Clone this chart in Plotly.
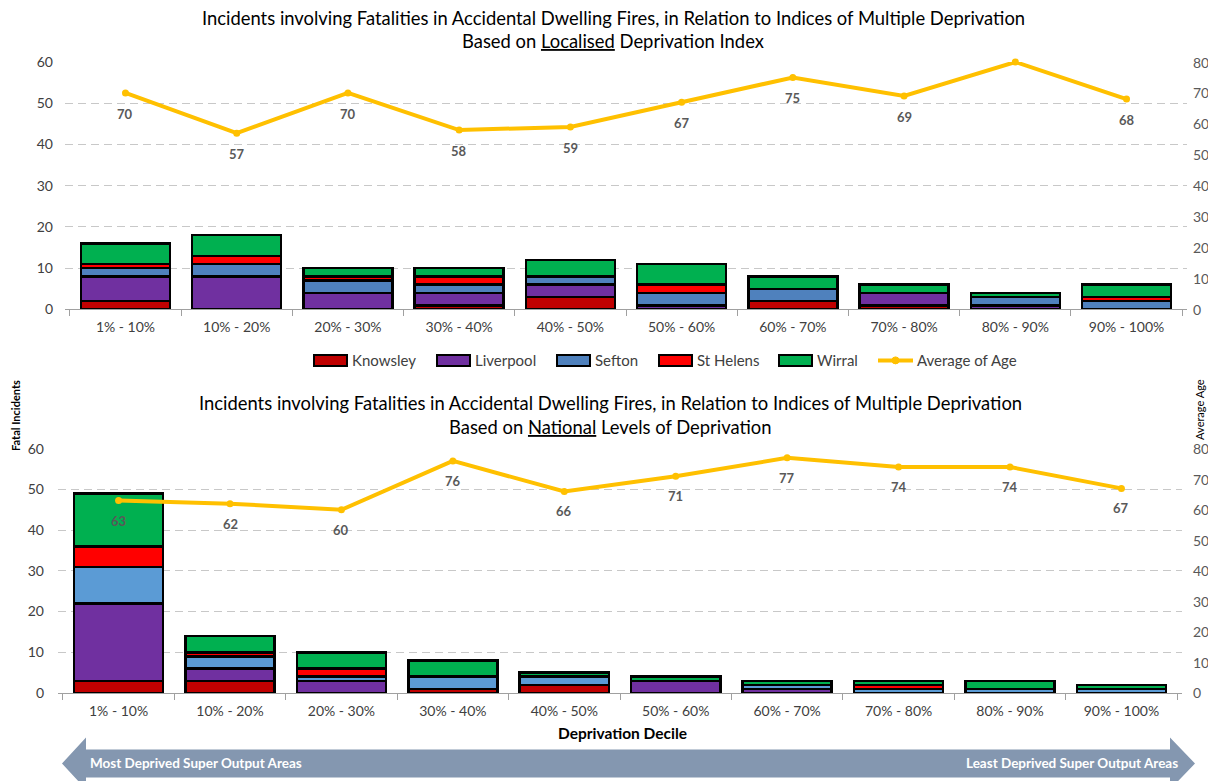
import plotly.graph_objects as go

W, H = 1208, 781

# ---- data -------------------------------------------------------------
deciles = ["1% - 10%", "10% - 20%", "20% - 30%", "30% - 40%", "40% - 50%",
           "50% - 60%", "60% - 70%", "70% - 80%", "80% - 90%", "90% - 100%"]

# Localised deprivation index
local_knowsley = [2, 0, 0, 1, 3, 0, 2, 1, 0, 0]
local_liverpool = [6, 8, 4, 3, 3, 1, 0, 3, 1, 0]
local_sefton = [2, 3, 3, 2, 2, 3, 3, 0, 2, 2]
local_sthelens = [1, 2, 1, 2, 0, 2, 0, 0, 0, 1]
local_wirral = [5, 5, 2, 2, 4, 5, 3, 2, 1, 3]
local_age = [70, 57, 70, 58, 59, 67, 75, 69, 80, 68]
local_age_labelled = [True, True, True, True, True, True, True, True, False, True]

# National levels of deprivation
nat_knowsley = [3, 3, 0, 1, 2, 0, 0, 0, 0, 0]
nat_liverpool = [19, 3, 3, 0, 0, 3, 1, 0, 0, 0]
nat_sefton = [9, 3, 1, 3, 2, 0, 1, 1, 1, 1]
nat_sthelens = [5, 1, 2, 0, 0, 0, 0, 1, 0, 0]
nat_wirral = [13, 4, 4, 4, 1, 1, 1, 1, 2, 1]
nat_age = [63, 62, 60, 76, 66, 71, 77, 74, 74, 67]

age_ticks = [0, 10, 20, 30, 40, 50, 60, 70, 80]

area_names = ["Knowsley", "Liverpool", "Sefton", "St Helens", "Wirral"]
area_colors_top = ["#C00000", "#7030A0", "#4F81BD", "#FF0000", "#00B050"]
area_colors_bottom = ["#C00000", "#7030A0", "#5B9BD5", "#FF0000", "#00B050"]
age_color = "#FFC000"

FONT = "Lato, 'Open Sans', sans-serif"
TICK_COLOR = "#404040"
GRID_COLOR = "#C8C8C8"
AXIS_COLOR = "#A0A0A0"


def px(x):
    return x / W


def py(y):
    # page y (pixels from top) -> paper fraction, allowing for the page offset
    return 1 - ((y - 8.7) / 0.978) / H


fig = go.Figure()

local_series = [local_knowsley, local_liverpool, local_sefton, local_sthelens, local_wirral]
nat_series = [nat_knowsley, nat_liverpool, nat_sefton, nat_sthelens, nat_wirral]

BAR_LINE = dict(color="black", width=2.5)

for name, vals, col in zip(area_names, local_series, area_colors_top):
    fig.add_trace(go.Bar(x=deciles, y=vals, name=name, xaxis="x", yaxis="y",
                         marker=dict(color=col, line=BAR_LINE), showlegend=False))
fig.add_trace(go.Scatter(x=deciles, y=local_age, name="Average of Age", xaxis="x", yaxis="y2",
                         mode="lines+markers", line=dict(color=age_color, width=4),
                         marker=dict(size=7, color=age_color), cliponaxis=False,
                         showlegend=False))

for name, vals, col in zip(area_names, nat_series, area_colors_bottom):
    fig.add_trace(go.Bar(x=deciles, y=vals, name=name, xaxis="x2", yaxis="y3",
                         marker=dict(color=col, line=BAR_LINE), showlegend=False))
fig.add_trace(go.Scatter(x=deciles, y=nat_age, name="Average of Age", xaxis="x2", yaxis="y4",
                         mode="lines+markers", line=dict(color=age_color, width=4),
                         marker=dict(size=7, color=age_color), cliponaxis=False,
                         showlegend=False))

annotations = []

# age value labels below each point
label_font = dict(family=FONT, size=13, color="#595959")
for cat, v, show in zip(deciles, local_age, local_age_labelled):
    if show:
        annotations.append(dict(x=cat, y=v, xref="x", yref="y2", yshift=-21,
                                text=f"<b>{v}</b>", showarrow=False, font=label_font))
for cat, v in zip(deciles, nat_age):
    annotations.append(dict(x=cat, y=v, xref="x2", yref="y4", yshift=-20,
                            text=f"<b>{v}</b>", showarrow=False, font=label_font))

# right-hand age scales
right_font = dict(family=FONT, size=14, color="#595959")
for t in age_ticks:
    annotations.append(dict(x=px(1191), y=t, xref="paper", yref="y2", text=str(t),
                            showarrow=False, xanchor="left", yanchor="middle", font=right_font))
    annotations.append(dict(x=px(1191), y=t, xref="paper", yref="y4", text=str(t),
                            showarrow=False, xanchor="left", yanchor="middle", font=right_font))

# titles
title_font = dict(family=FONT, size=18.4, color="#000000")
annotations += [
    dict(x=px(613), y=py(18), xref="paper", yref="paper", showarrow=False,
         text="Incidents involving Fatalities in Accidental Dwelling Fires, in Relation to Indices of Multiple Deprivation",
         font=title_font, xanchor="center", yanchor="middle"),
    dict(x=px(613), y=py(41), xref="paper", yref="paper", showarrow=False,
         text="Based on <u>Localised</u> Deprivation Index",
         font=title_font, xanchor="center", yanchor="middle"),
    dict(x=px(610), y=py(403), xref="paper", yref="paper", showarrow=False,
         text="Incidents involving Fatalities in Accidental Dwelling Fires, in Relation to Indices of Multiple Deprivation",
         font=title_font, xanchor="center", yanchor="middle"),
    dict(x=px(610), y=py(427), xref="paper", yref="paper", showarrow=False,
         text="Based on <u>National</u> Levels of Deprivation",
         font=title_font, xanchor="center", yanchor="middle"),
]

# axis titles of the lower chart
annotations += [
    dict(x=px(16), y=py(453), xref="paper", yref="paper", showarrow=False,
         text="<b>Fatal Incidents</b>", textangle=-90, xanchor="center", yanchor="bottom",
         font=dict(family=FONT, size=11, color="#000000")),
    dict(x=px(1200), y=py(442), xref="paper", yref="paper", showarrow=False,
         text="Average Age", textangle=-90, xanchor="center", yanchor="bottom",
         font=dict(family=FONT, size=11, color="#000000")),
    dict(x=px(622), y=py(733), xref="paper", yref="paper", showarrow=False,
         text="<b>Deprivation Decile</b>", xanchor="center", yanchor="middle",
         font=dict(family=FONT, size=15.5, color="#000000")),
]

shapes = []

# legend for the upper chart
legend_y = 360
swatch_x = [314, 437, 557, 659, 779]
swatch_w, swatch_h = 33, 11
legend_font = dict(family=FONT, size=15, color=TICK_COLOR)
for x0, name, col in zip(swatch_x, area_names, area_colors_top):
    shapes.append(dict(type="rect", xref="paper", yref="paper",
                       x0=px(x0), x1=px(x0 + swatch_w),
                       y0=py(legend_y + swatch_h / 2), y1=py(legend_y - swatch_h / 2),
                       fillcolor=col, line=dict(color="black", width=2)))
    annotations.append(dict(x=px(x0 + swatch_w + 3), y=py(legend_y), xref="paper", yref="paper",
                            text=name, showarrow=False, xanchor="left", yanchor="middle",
                            font=legend_font))
shapes.append(dict(type="line", xref="paper", yref="paper",
                   x0=px(878), x1=px(913), y0=py(legend_y), y1=py(legend_y),
                   line=dict(color=age_color, width=4)))
shapes.append(dict(type="circle", xref="paper", yref="paper",
                   x0=px(892), x1=px(899), y0=py(legend_y + 3.5), y1=py(legend_y - 3.5),
                   fillcolor=age_color, line=dict(color=age_color, width=1)))
annotations.append(dict(x=px(915), y=py(legend_y), xref="paper", yref="paper",
                        text="Average of Age", showarrow=False, xanchor="left", yanchor="middle",
                        font=legend_font))

# double-headed arrow under the lower chart
arrow_pts = [(62, 763), (86, 737), (86, 749), (1170, 749), (1170, 737), (1195, 763),
             (1170, 789), (1170, 777), (86, 777), (86, 789)]
path = "M " + " L ".join(f"{px(x):.5f},{py(y):.5f}" for x, y in arrow_pts) + " Z"
shapes.append(dict(type="path", xref="paper", yref="paper", path=path,
                   fillcolor="#8497B0", line=dict(width=0), layer="above"))
arrow_font = dict(family=FONT, size=13.5, color="#FFFFFF")
annotations += [
    dict(x=px(88), y=py(763), xref="paper", yref="paper", showarrow=False,
         text="<b>Most Deprived Super Output Areas</b>", xanchor="left", yanchor="middle",
         font=arrow_font),
    dict(x=px(1180), y=py(763), xref="paper", yref="paper", showarrow=False,
         text="<b>Least Deprived Super Output Areas</b>", xanchor="right", yanchor="middle",
         font=arrow_font),
]

tick_font = dict(family=FONT, size=14, color=TICK_COLOR)

xaxis_common = dict(type="category", showline=True, linecolor=AXIS_COLOR, linewidth=1,
                    ticks="outside", tickson="boundaries", ticklen=6, tickcolor=AXIS_COLOR,
                    showgrid=False, tickfont=tick_font, fixedrange=True, ticklabelstandoff=5)
yaxis_left = dict(range=[0, 60], dtick=10, showgrid=True, gridcolor=GRID_COLOR, gridwidth=1,
                  griddash="8px,5px", zeroline=False, showline=False, ticks="",
                  tickfont=tick_font)
yaxis_right = dict(range=[0, 80], dtick=10, showgrid=False, zeroline=False, showline=False,
                   ticks="", side="right", showticklabels=False)

fig.update_layout(
    width=W, height=H,
    margin=dict(l=0, r=0, t=0, b=0),
    paper_bgcolor="white", plot_bgcolor="white",
    barmode="stack", bargap=0.2,
    font=dict(family=FONT),
    showlegend=False,
    xaxis=dict(domain=[px(65), px(1187)], anchor="y", **xaxis_common),
    yaxis=dict(domain=[py(309), py(61.7)], anchor="x", ticklabelstandoff=11, **yaxis_left),
    yaxis2=dict(overlaying="y", anchor="x", **yaxis_right),
    xaxis2=dict(domain=[px(58), px(1182)], anchor="y3", **xaxis_common),
    yaxis3=dict(domain=[py(692.5), py(448.3)], anchor="x2", ticklabelstandoff=13, **yaxis_left),
    yaxis4=dict(overlaying="y3", anchor="x2", **yaxis_right),
    annotations=annotations,
    shapes=shapes,
)

fig.write_html("out.html")
